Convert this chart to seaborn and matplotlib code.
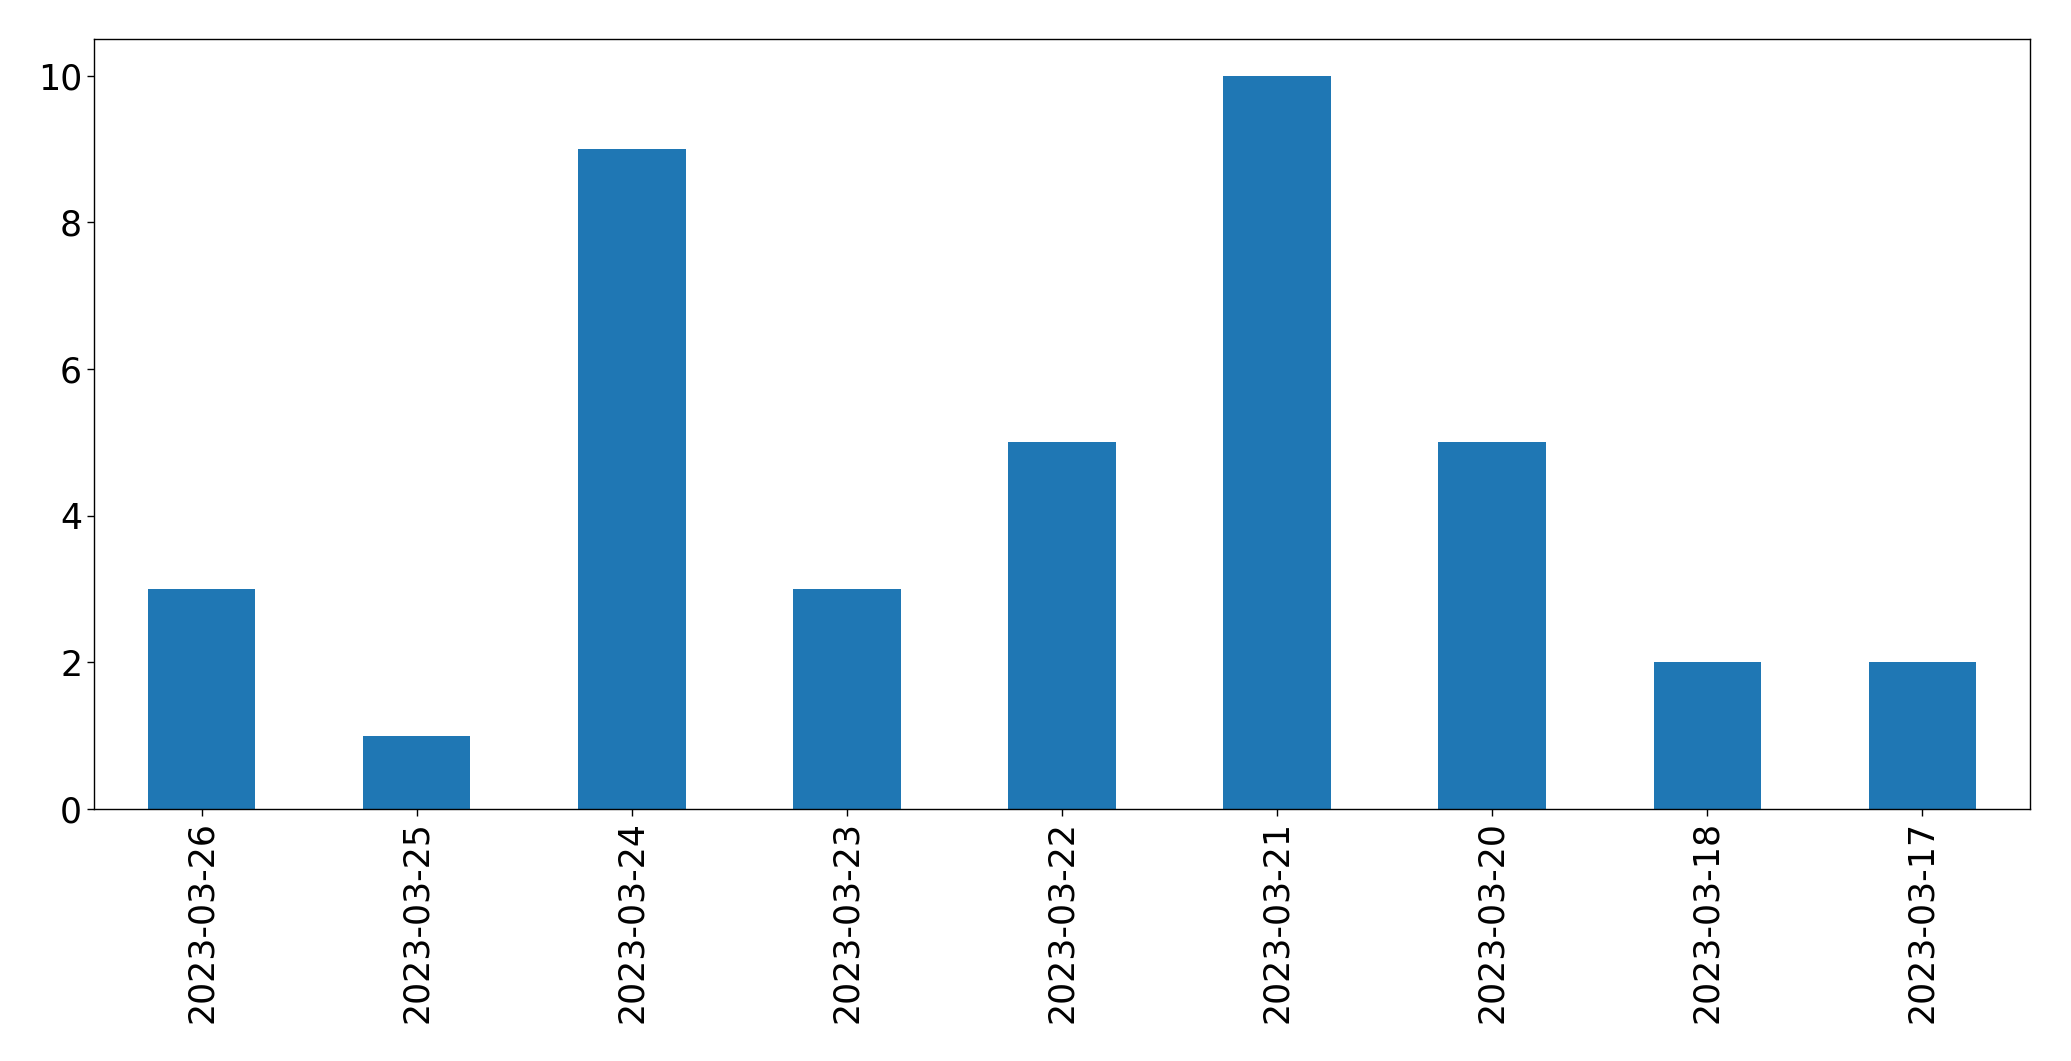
import matplotlib
matplotlib.use("Agg")
import matplotlib.pyplot as plt
import seaborn as sns
import pandas as pd

dates = ["2023-03-26", "2023-03-25", "2023-03-24", "2023-03-23", "2023-03-22",
         "2023-03-21", "2023-03-20", "2023-03-18", "2023-03-17"]
counts = [3, 1, 9, 3, 5, 10, 5, 2, 2]

sns.set_style("ticks")
plt.rcParams['font.family'] = ['DejaVu Sans']

df = pd.DataFrame({"date": dates, "count": counts})

fig = plt.figure(figsize=(20.71, 10.61), dpi=100)
ax = fig.add_axes([94/2071, 1 - 809/1061, (2030-94)/2071, (809-39)/1061])
sns.barplot(data=df, x="date", y="count", color="#1f77b4", saturation=1,
            width=0.5, ax=ax, order=dates, linewidth=0, edgecolor="none")
ax.set_xlim(-0.5, len(dates) - 0.5)
ax.set_ylim(0, 10.5)
ax.set_yticks([0, 2, 4, 6, 8, 10])
ax.set_xlabel("")
ax.set_ylabel("")
ax.tick_params(axis='both', labelsize=25, length=5, width=1, color='black',
               labelcolor='black')
ax.tick_params(axis='x', labelrotation=90)
for s in ax.spines.values():
    s.set_visible(True)
    s.set_color('black')
    s.set_linewidth(1)
fig.savefig("out.png", dpi=100, facecolor="white")
